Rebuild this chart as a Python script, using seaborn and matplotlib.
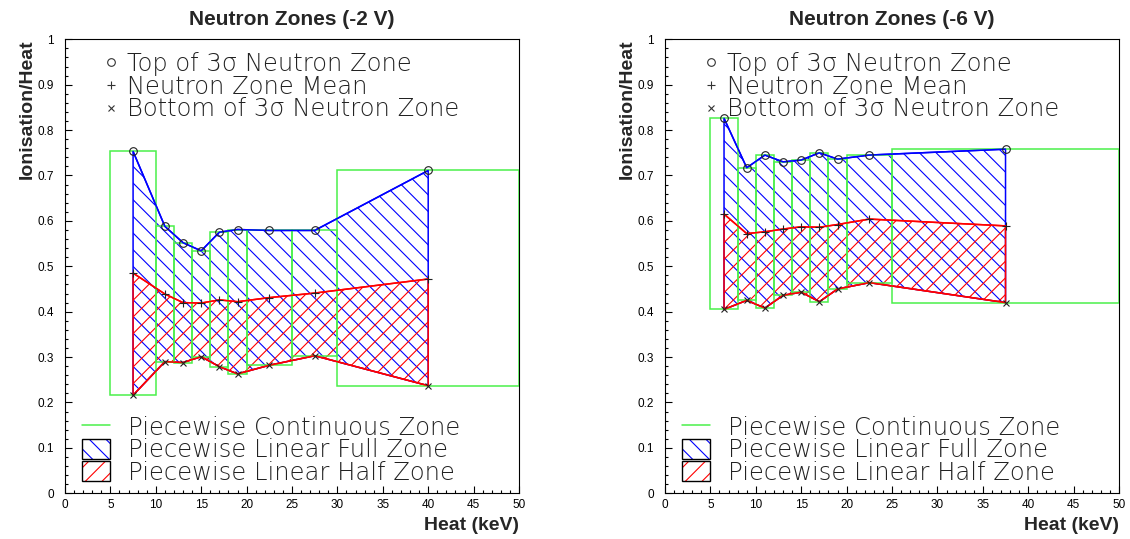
import matplotlib
matplotlib.use("Agg")
import matplotlib.pyplot as plt
from matplotlib.lines import Line2D
from matplotlib.patches import Patch
from matplotlib.ticker import MultipleLocator
import seaborn as sns
import numpy as np

# -2 V : bin edges, bin centres and the three zone curves
edges_2v = [5, 10, 12, 14, 16, 18, 20, 25, 30, 50]
heat_2v = [7.5, 11, 13, 15, 17, 19, 22.5, 27.5, 40]
top_2v = [0.753, 0.588, 0.552, 0.534, 0.575, 0.581, 0.579, 0.579, 0.711]
mean_2v = [0.485, 0.439, 0.420, 0.419, 0.426, 0.422, 0.431, 0.441, 0.472]
bottom_2v = [0.216, 0.290, 0.288, 0.301, 0.279, 0.263, 0.282, 0.303, 0.237]

# -6 V
edges_6v = [5, 8, 10, 12, 14, 16, 18, 20, 25, 50]
heat_6v = [6.5, 9, 11, 13, 15, 17, 19, 22.5, 37.5]
top_6v = [0.826, 0.717, 0.745, 0.730, 0.734, 0.750, 0.736, 0.745, 0.758]
mean_6v = [0.615, 0.572, 0.576, 0.582, 0.587, 0.586, 0.592, 0.604, 0.589]
bottom_6v = [0.405, 0.425, 0.408, 0.436, 0.443, 0.422, 0.450, 0.464, 0.420]

titles = ["Neutron Zones (-2 V)", "Neutron Zones (-6 V)"]
yticks = [0, 0.1, 0.2, 0.3, 0.4, 0.5, 0.6, 0.7, 0.8, 0.9, 1.0]
ytick_labels = ["0", "0.1", "0.2", "0.3", "0.4", "0.5", "0.6", "0.7", "0.8", "0.9", "1"]
marker_labels = ["Top of 3σ Neutron Zone", "Neutron Zone Mean", "Bottom of 3σ Neutron Zone"]
zone_labels = ["Piecewise Continuous Zone", "Piecewise Linear Full Zone", "Piecewise Linear Half Zone"]

GREEN = "#4af04a"
BLUE = "#0000ff"
RED = "#ff0000"

sns.set_theme(style="ticks")
plt.rcParams["font.family"] = ["Liberation Sans", "DejaVu Sans"]
plt.rcParams["hatch.linewidth"] = 0.8
plt.rcParams["axes.edgecolor"] = "black"
plt.rcParams["axes.linewidth"] = 0.8

LEG_FONT = {"family": "DejaVu Sans", "weight": "light", "size": 17.5}

fig = plt.figure(figsize=(11.3, 5.39), dpi=100)
ax_l = fig.add_axes([0.0575, 0.0848, 0.4018, 0.8423])
ax_r = fig.add_axes([0.5885, 0.0848, 0.4018, 0.8423])


def draw_panel(ax, edges, heat, top, mean, bottom, title):
    # hatched zones
    ax.fill_between(heat, bottom, top, facecolor="none", edgecolor=BLUE,
                    hatch="\\\\", linewidth=1.1, zorder=2)
    ax.fill_between(heat, bottom, mean, facecolor="none", edgecolor=RED,
                    hatch="//", linewidth=1.1, zorder=2.1)

    # piecewise continuous boxes
    lefts = np.array(edges[:-1])
    widths = np.diff(edges)
    ax.bar(lefts, np.array(top) - np.array(bottom), width=widths, bottom=bottom,
           align="edge", fill=False, edgecolor=GREEN, linewidth=1.1, zorder=3)

    # zone curves with markers
    common = dict(ax=ax, legend=False, errorbar=None, linewidth=1.1,
                  markeredgecolor="#222222", markeredgewidth=0.8, zorder=4)
    sns.lineplot(x=heat, y=top, color=BLUE, marker="o", markersize=5.5,
                 markerfacecolor="none", **common)
    sns.lineplot(x=heat, y=mean, color=RED, marker="+", markersize=6, **common)
    sns.lineplot(x=heat, y=bottom, color=RED, marker="x", markersize=5, **common)

    ax.set_xlim(0, 50)
    ax.set_ylim(0, 1)
    ax.xaxis.set_major_locator(MultipleLocator(5))
    ax.xaxis.set_minor_locator(MultipleLocator(1))
    ax.set_yticks(yticks, labels=ytick_labels)
    ax.yaxis.set_minor_locator(MultipleLocator(0.02))
    ax.tick_params(which="both", direction="in", top=False, right=False,
                   colors="black", labelsize=8.5, width=0.8)
    ax.tick_params(which="major", length=5)
    ax.tick_params(which="minor", length=2.5)
    ax.tick_params(axis="y", pad=8)
    ax.tick_params(axis="x", pad=4)
    for s in ax.spines.values():
        s.set_visible(True)

    ax.set_title(title, fontsize=15, fontweight="bold", pad=10)
    ax.set_xlabel("Heat (keV)", fontsize=14, fontweight="bold", loc="right")
    ax.set_ylabel("Ionisation/Heat", fontsize=14, fontweight="bold", loc="top")
    ax.xaxis.set_label_coords(1.0, -0.053)
    ax.yaxis.set_label_coords(-0.0645, 1.0)

    # marker legend (top)
    mk = dict(linestyle="none", markerfacecolor="none", markeredgecolor="#333333",
              markeredgewidth=0.8)
    h_top = [Line2D([], [], marker="o", markersize=5.5, **mk),
             Line2D([], [], marker="+", markersize=6, **mk),
             Line2D([], [], marker="x", markersize=5, **mk)]
    leg1 = ax.legend(h_top, marker_labels, loc="upper left", bbox_to_anchor=(0.087, 0.972),
                     frameon=False, prop=LEG_FONT, handlelength=0.55, handletextpad=0.38,
                     labelspacing=-0.06, borderpad=0, borderaxespad=0, labelcolor="#222222")
    ax.add_artist(leg1)

    # zone legend (bottom)
    h_bot = [Line2D([], [], color=GREEN, linewidth=1.1),
             (Patch(facecolor="white", edgecolor=BLUE, hatch="\\\\", linewidth=0),
              Patch(facecolor="none", edgecolor="black", linewidth=1.0)),
             (Patch(facecolor="white", edgecolor=RED, hatch="//", linewidth=0),
              Patch(facecolor="none", edgecolor="black", linewidth=1.0))]
    ax.legend(h_bot, zone_labels, loc="lower left", bbox_to_anchor=(0.0374, 0.019),
              frameon=False, prop=LEG_FONT, handlelength=1.15, handleheight=0.87,
              handletextpad=0.74, labelspacing=-0.06, borderpad=0, borderaxespad=0,
              labelcolor="#222222")


draw_panel(ax_l, edges_2v, heat_2v, top_2v, mean_2v, bottom_2v, titles[0])
draw_panel(ax_r, edges_6v, heat_6v, top_6v, mean_6v, bottom_6v, titles[1])

fig.savefig("out.png", dpi=100)
